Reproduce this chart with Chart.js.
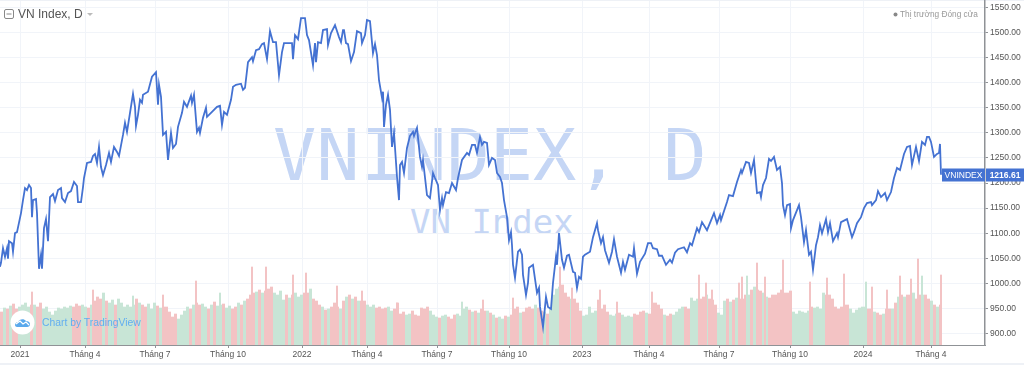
<!DOCTYPE html>
<html>
<head>
<meta charset="utf-8">
<title>VN Index, D</title>
<script src="https://cdn.jsdelivr.net/npm/chart.js@4"></script>
<style>
    html, body { margin: 0; padding: 0; background: #fff; overflow: hidden; }
    #wrap { position: relative; width: 1024px; height: 365px; font-family: "Liberation Sans", sans-serif; }
    #chart { position: absolute; left: 0; top: 0; z-index: 2; }
    .frame { position: absolute; left: 0; width: 1024px; background: #eef1f6; z-index: 1; }
    .wm { position: absolute; z-index: 1; color: #c5d6f5; font-family: "DejaVu Sans Mono", monospace; white-space: nowrap; line-height: 1; }
    .over { position: absolute; z-index: 3; white-space: nowrap; line-height: 1; }
</style>
</head>
<body>
<div id="wrap">
    <div class="frame" style="top:0;height:1px"></div>
    <div class="frame" style="top:363px;height:2px"></div>
    <div class="wm" id="wm1" style="left:273px;top:119px;font-size:72px">VNINDEX, D</div>
    <div class="wm" id="wm2" style="left:410px;top:205px;font-size:34px">VN Index</div>
    <canvas id="chart" width="1024" height="365"></canvas>
    <svg class="over" style="left:4px;top:9px" width="11" height="11" viewBox="0 0 11 11">
        <rect x="0.5" y="0.5" width="9" height="9" rx="1.5" fill="#fff" stroke="#888"/>
        <line x1="2.5" y1="5" x2="7.5" y2="5" stroke="#888"/>
    </svg>
    <div class="over" style="left:18px;top:8px;font-size:12px;color:#555">VN Index, D</div>
    <svg class="over" style="left:87px;top:13px" width="7" height="4" viewBox="0 0 7 4"><path d="M0 0H6L3 3Z" fill="#bbb"/></svg>
    <svg class="over" style="left:893px;top:12px" width="5" height="5" viewBox="0 0 5 5"><circle cx="2.5" cy="2.5" r="2" fill="#888"/></svg>
    <div class="over" style="left:900px;top:10px;font-size:8.3px;color:#999">Thị trường Đóng cửa</div>
    <svg class="over" style="left:10px;top:310px" width="25" height="25" viewBox="0 0 25 25">
        <circle cx="12.5" cy="12.5" r="12" fill="#fff"/>
        <path d="M5 15c0-2 2-3 3-3 1-3 6-4 8-1 2 0 4 1 4 3s-1 3-3 3H7c-1 0-2-1-2-2z" fill="#5aa9ec"/>
        <path d="M6 14l4-3 3 3 3-2 3 3" fill="none" stroke="#fff" stroke-width="1.2"/>
    </svg>
    <div class="over" style="left:42px;top:318px;font-size:10.35px;color:#62aef0">Chart by TradingView</div>
</div>
<script>
var closeBar = [
    0, 1, 3, 5, 7, 8, 9, 12, 13, 15, 17, 21, 23, 25, 27, 29, 31, 32, 33, 36, 37, 39, 41, 42, 44, 46, 48, 50, 53, 55,
    58, 61, 62, 65, 68, 71, 74, 77, 78, 81, 83, 84, 87, 91, 93, 95, 97, 99, 101, 103, 106, 109, 111, 114, 117, 119,
    123, 125, 127, 130, 133, 135, 136, 138, 140, 142, 143, 148, 152, 156, 158, 159, 161, 163, 166, 168, 171, 173,
    176, 178, 182, 184, 187, 191, 192, 194, 197, 199, 200, 203, 206, 207, 212, 217, 220, 222, 224, 227, 231, 233,
    236, 241, 243, 245, 248, 252, 253, 256, 259, 262, 264, 267, 270, 273, 276, 279, 282, 284, 292, 293, 295, 298,
    301, 305, 307, 309, 313, 315, 316, 318, 321, 323, 327, 328, 331, 335, 339, 341, 343, 344, 346, 348, 351, 354,
    357, 361, 362, 365, 367, 370, 373, 375, 377, 379, 382, 383, 384, 386, 388, 390, 392, 394, 397, 399, 400, 402,
    404, 407, 410, 413, 414, 417, 420, 422, 423, 427, 430, 433, 435, 438, 440, 442, 443, 446, 449, 452, 456, 458,
    462, 467, 469, 472, 475, 477, 480, 482, 484, 487, 489, 492, 495, 497, 500, 502, 504, 507, 509, 511, 512, 513,
    515, 518, 520, 522, 523, 526, 528, 529, 533, 537, 539, 540, 543, 546, 548, 551, 553, 556, 557, 559, 562, 564,
    567, 569, 573, 575, 577, 579, 581, 583, 585, 590, 593, 597, 598, 601, 603, 605, 609, 612, 614, 617, 621, 623,
    625, 629, 633, 634, 637, 640, 645, 648, 651, 653, 657, 659, 662, 666, 670, 672, 675, 678, 684, 687, 690, 692,
    697, 699, 702, 707, 714, 717, 720, 721, 727, 729, 733, 737, 741, 742, 746, 749, 751, 754, 757, 760, 761, 763,
    766, 769, 771, 774, 777, 780, 782, 783, 785, 787, 790, 791, 793, 799, 801, 804, 806, 809, 811, 813, 816, 818,
    820, 822, 826, 828, 830, 833, 837, 838, 841, 847, 852, 854, 857, 861, 864, 867, 871, 872, 876, 878, 881, 885,
    887, 891, 894, 897, 900, 904, 907, 910, 912, 916, 919, 922, 925, 927, 929, 931, 934, 937, 939, 940, 941
];
var closeValue = [
    1033, 1041, 1070, 1053, 1070, 1049, 1084, 1080, 1063, 1100, 1102, 1140, 1166, 1190, 1186, 1196, 1190, 1132, 1166, 1168, 1140, 1029, 1057, 1029, 1110, 1128, 1084, 1172, 1178, 1164,
    1186, 1190, 1170, 1162, 1180, 1184, 1202, 1194, 1162, 1162, 1192, 1210, 1240, 1242, 1254, 1258, 1240, 1272, 1232, 1216, 1236, 1260, 1242, 1272, 1262, 1254,
    1296, 1320, 1302, 1340, 1378, 1352, 1314, 1336, 1366, 1360, 1376, 1382, 1412, 1421, 1356, 1396, 1372, 1296, 1302, 1246, 1300, 1270,
    1278, 1312, 1340, 1362, 1352, 1374, 1360, 1376, 1302, 1310, 1300, 1330, 1350, 1332, 1342, 1352, 1354, 1316, 1342, 1336, 1366, 1392,
    1396, 1398, 1386, 1390, 1441, 1451, 1443, 1465, 1467, 1477, 1479, 1447, 1503, 1481, 1481, 1415, 1461, 1479, 1479, 1447, 1495, 1487,
    1529, 1529, 1495, 1485, 1435, 1479, 1441, 1481, 1479, 1505, 1507, 1475, 1499, 1515, 1491, 1481, 1505, 1505, 1479, 1477, 1443, 1461,
    1503, 1499, 1479, 1495, 1525, 1523, 1459, 1477, 1455, 1405, 1370, 1382, 1312, 1356, 1376, 1346, 1272, 1300, 1212, 1166, 1236, 1242,
    1220, 1270, 1294, 1302, 1294, 1310, 1252, 1232, 1246, 1176, 1170, 1220, 1210, 1196, 1146, 1170, 1156, 1182, 1180, 1200, 1186, 1210,
    1246, 1260, 1256, 1276, 1276, 1260, 1292, 1276, 1282, 1280, 1236, 1250, 1246, 1220, 1212, 1200, 1166, 1132, 1086, 1102, 1076, 1037,
    1011, 1063, 1067, 1057, 1017, 977, 1001, 1031, 1037, 981, 991, 953, 913, 973, 953, 949, 1001, 1053, 1037, 1100, 1047, 1031,
    1055, 1057, 1023, 1021, 991, 1013, 1009, 1053, 1057, 1063, 1092, 1120, 1106, 1080, 1092, 1066, 1041, 1063, 1088, 1053, 1021, 1043,
    1027, 1057, 1053, 1070, 1019, 1043, 1059, 1080, 1080, 1070, 1068, 1055, 1055, 1037, 1047, 1041, 1061, 1068, 1072, 1062, 1080, 1076,
    1110, 1102, 1122, 1106, 1140, 1120, 1136, 1126, 1162, 1176, 1174, 1202, 1226, 1220, 1242, 1240, 1220, 1246, 1180, 1182, 1172, 1196,
    1210, 1248, 1244, 1252, 1226, 1232, 1200, 1156, 1136, 1156, 1158, 1110, 1126, 1156, 1132, 1082, 1106, 1057, 1063, 1027, 1076, 1092,
    1116, 1100, 1128, 1102, 1120, 1084, 1100, 1092, 1122, 1128, 1092, 1102, 1120, 1132, 1150, 1160, 1162, 1156, 1166, 1184, 1172, 1180,
    1166, 1182, 1210, 1230, 1226, 1258, 1272, 1274, 1236, 1272, 1244, 1282, 1276, 1292, 1292, 1282, 1252, 1258, 1260, 1278, 1216.61
];
// volume, one entry per 3 bars, read as relative height
var volumes = [
    33, 37, 36, 39, 41, 36, 38, 40, 42, 38, 40, 40, 38, 42, 36, 38, 33, 30, 34, 37,
    36, 38, 37, 39, 38, 41, 39, 40, 38, 37, 40, 44, 48, 46, 52, 44, 42, 45, 40, 46,
    42, 38, 40, 38, 40, 46, 42, 40, 38, 41, 36, 42, 39, 37, 38, 38, 33, 28, 31, 26,
    30, 34, 38, 36, 40, 42, 40, 41, 38, 36, 40, 43, 39, 40, 41, 37, 39, 36, 38, 42,
    40, 44, 46, 50, 52, 53, 55, 52, 54, 56, 58, 52, 50, 54, 45, 50, 47, 50, 52, 48,
    50, 52, 52, 56, 46, 44, 40, 38, 35, 36, 38, 42, 38, 36, 44, 48, 50, 46, 48, 44,
    44, 44, 40, 38, 40, 37, 38, 36, 37, 38, 34, 36, 42, 31, 33, 30, 31, 34, 30, 29,
    37, 36, 38, 34, 30, 28, 27, 29, 30, 28, 26, 30, 31, 29, 36, 38, 35, 33, 34, 32,
    36, 34, 34, 32, 30, 27, 28, 26, 29, 28, 30, 36, 38, 32, 33, 37, 38, 36, 40, 37,
    34, 33, 31, 36, 50, 56, 58, 60, 52, 48, 46, 46, 42, 34, 29, 30, 38, 32, 34, 37,
    36, 40, 33, 30, 29, 31, 32, 30, 28, 29, 28, 31, 30, 33, 34, 32, 31, 42, 42, 40,
    36, 30, 29, 31, 30, 33, 36, 38, 38, 36, 47, 44, 46, 46, 48, 50, 46, 45, 40, 32,
    30, 44, 46, 43, 45, 47, 46, 46, 50, 50, 55, 58, 55, 54, 52, 48, 47, 50, 50, 52,
    55, 52, 52, 54, 33, 31, 34, 33, 32, 34, 38, 37, 38, 36, 52, 50, 50, 46, 38, 36,
    38, 40, 40, 36, 32, 35, 37, 38, 38, 36, 36, 33, 32, 30, 31, 36, 36, 36, 42, 48,
    50, 48, 50, 50, 52, 46, 50, 50, 50, 46, 44, 40, 38, 40
];
// 1 = up session (green), 0 = down session (red)
var volumeUp = [
    0, 1, 0, 1, 0, 0, 1, 1, 1, 1, 0, 1, 0, 0, 1, 1, 1, 1, 1, 1,
    1, 1, 1, 1, 0, 0, 0, 1, 1, 0, 1, 0, 0, 0, 1, 0, 1, 1, 0, 1,
    1, 1, 1, 1, 1, 0, 1, 0, 0, 1, 1, 1, 0, 1, 0, 0, 0, 0, 0, 1,
    1, 1, 1, 0, 1, 0, 0, 1, 1, 0, 1, 0, 1, 1, 0, 1, 1, 0, 0, 1,
    0, 1, 0, 0, 0, 1, 0, 1, 0, 0, 0, 1, 1, 1, 1, 0, 1, 0, 1, 1,
    1, 0, 0, 1, 0, 0, 0, 1, 0, 1, 0, 0, 0, 1, 0, 1, 0, 1, 0, 1,
    0, 0, 1, 1, 1, 0, 0, 0, 0, 1, 1, 0, 0, 0, 0, 1, 1, 0, 0, 0,
    0, 0, 0, 1, 1, 1, 0, 1, 1, 0, 0, 0, 1, 1, 1, 1, 0, 1, 0, 1,
    0, 0, 1, 0, 1, 0, 1, 1, 0, 1, 0, 0, 0, 1, 0, 0, 0, 0, 1, 0,
    0, 1, 0, 1, 1, 1, 1, 0, 0, 0, 1, 0, 0, 0, 1, 1, 1, 1, 1, 0,
    0, 0, 0, 1, 1, 1, 0, 1, 1, 1, 1, 0, 0, 0, 0, 1, 0, 0, 0, 0,
    0, 1, 0, 0, 1, 1, 1, 1, 0, 0, 1, 1, 1, 0, 0, 1, 0, 0, 0, 1,
    1, 1, 0, 1, 0, 1, 0, 0, 0, 1, 0, 1, 0, 0, 1, 1, 0, 0, 0, 0,
    0, 0, 0, 0, 1, 1, 1, 1, 1, 1, 0, 1, 1, 1, 1, 0, 0, 0, 0, 0,
    0, 0, 0, 1, 1, 1, 1, 1, 1, 0, 0, 1, 0, 0, 1, 0, 0, 1, 0, 1,
    0, 1, 0, 0, 1, 0, 0, 1, 0, 0, 1, 0, 1, 0
];
// single heavy sessions that stick out of the volume band
var peakBar = [32, 93, 133, 163, 196, 220, 252, 266, 293, 306, 337, 362, 397, 462, 483, 513, 560, 572, 598, 600, 617, 652, 699, 706, 712, 739, 742, 747, 757, 765, 783, 810, 827, 844, 866, 872, 887, 900, 911, 918, 922, 941];
var peakVolume = [53, 55, 49, 50, 64, 52, 78, 78, 70, 72, 59, 54, 42, 43, 45, 47, 78, 57, 45, 55, 43, 53, 70, 62, 55, 62, 68, 69, 82, 68, 85, 63, 67, 71, 63, 58, 55, 69, 66, 86, 69, 70];
var peakUp = [0, 0, 1, 0, 0, 1, 0, 0, 0, 0, 0, 0, 0, 1, 0, 0, 0, 0, 0, 0, 0, 0, 0, 0, 0, 0, 0, 1, 0, 0, 0, 0, 0, 0, 1, 0, 0, 0, 0, 0, 1, 0];
var tickBars = [20, 85, 155, 228, 302, 367, 437, 509, 582, 649, 719, 790, 863, 931];
var tickLabels = ['2021', 'Tháng 4', 'Tháng 7', 'Tháng 10', '2022', 'Tháng 4', 'Tháng 7', 'Tháng 10', '2023', 'Tháng 4', 'Tháng 7', 'Tháng 10', '2024', 'Tháng 4'];

var lineColor = '#4472d2';
var gridColor = '#f1f4f9';
var axisColor = '#8f9296';
var labelFont = { family: '"Liberation Sans", sans-serif', size: 8.5 };

var upColor = '#c8e5d6';
var downColor = '#f3c3c4';
var linePoints = closeBar.map(function(b, i) { return { x: b, y: closeValue[i] }; });
var volumePoints = volumes.map(function(v, i) { return { x: i * 3 + 1.5, y: v }; });
var volumeColors = volumeUp.map(function(u) { return u ? upColor : downColor; });
var peakPoints = peakBar.map(function(b, i) { return { x: b, y: peakVolume[i] }; });
var peakColors = peakUp.map(function(u) { return u ? upColor : downColor; });

// price tag next to the last close
var lastPriceTag = {
    id: 'lastPriceTag',
    afterDatasetsDraw: function(chart) {
        var ctx = chart.ctx;
        var last = closeValue[closeValue.length - 1];
        var y = Math.round(chart.scales.y.getPixelForValue(last));
        ctx.save();
        ctx.fillStyle = lineColor;
        ctx.fillRect(chart.scales.x.getPixelForValue(942), y - 6.5, 43, 13);
        ctx.fillRect(chart.scales.x.right + 1, y - 6.5, 38, 13);
        ctx.fillStyle = '#fff';
        ctx.font = '8.5px "Liberation Sans", sans-serif';
        ctx.textAlign = 'center';
        ctx.textBaseline = 'middle';
        ctx.fillText('VNINDEX', chart.scales.x.getPixelForValue(963.5), y + 0.5);
        ctx.font = 'bold 8.5px "Liberation Sans", sans-serif';
        ctx.fillText(last.toFixed(2), chart.scales.x.right + 20, y + 0.5);
        ctx.restore();
    }
};

var chart = new Chart(document.getElementById('chart'), {
    data: {
        datasets: [
            {
                type: 'line',
                label: 'VNINDEX',
                data: linePoints,
                borderColor: lineColor,
                borderWidth: 1.8,
                pointRadius: 0,
                tension: 0,
                yAxisID: 'y',
                order: 1
            },
            {
                type: 'bar',
                label: 'Volume',
                data: volumePoints,
                backgroundColor: volumeColors,
                barThickness: 2.4,
                grouped: false,
                yAxisID: 'volume',
                order: 3
            },
            {
                type: 'bar',
                label: 'Volume peaks',
                data: peakPoints,
                backgroundColor: peakColors,
                barThickness: 1.4,
                grouped: false,
                yAxisID: 'volume',
                order: 2
            }
        ]
    },
    options: {
        responsive: false,
        animation: false,
        parsing: false,
        layout: { padding: { top: 1, left: 0, right: 0, bottom: 0 } },
        plugins: { legend: { display: false }, tooltip: { enabled: false } },
        scales: {
            x: {
                type: 'linear',
                min: 0,
                max: 985,
                offset: false,
                afterBuildTicks: function(scale) {
                    scale.ticks = tickBars.map(function(b) { return { value: b }; });
                },
                afterFit: function(scale) { scale.height = 20; },
                grid: { color: gridColor, tickColor: axisColor, tickLength: 3, drawTicks: true, offset: false },
                border: { color: axisColor, width: 1 },
                ticks: {
                    autoSkip: false,
                    maxRotation: 0,
                    color: '#555',
                    font: labelFont,
                    padding: 2,
                    callback: function(value) { return tickLabels[tickBars.indexOf(value)]; }
                }
            },
            y: {
                position: 'right',
                min: 877,
                max: 1563,
                afterFit: function(scale) {
                    scale.width = 39;
                    scale.paddingTop = 0;
                    scale.paddingBottom = 0;
                },
                grid: { color: gridColor, tickColor: axisColor, tickLength: 3 },
                border: { color: axisColor, width: 1.5 },
                ticks: {
                    stepSize: 50,
                    includeBounds: false,
                    color: '#555',
                    font: labelFont,
                    padding: 2,
                    callback: function(value) { return value.toFixed(2); }
                }
            },
            volume: {
                display: false,
                position: 'right',
                min: 0,
                max: 344
            }
        }
    },
    plugins: [lastPriceTag]
});
</script>
</body>
</html>
